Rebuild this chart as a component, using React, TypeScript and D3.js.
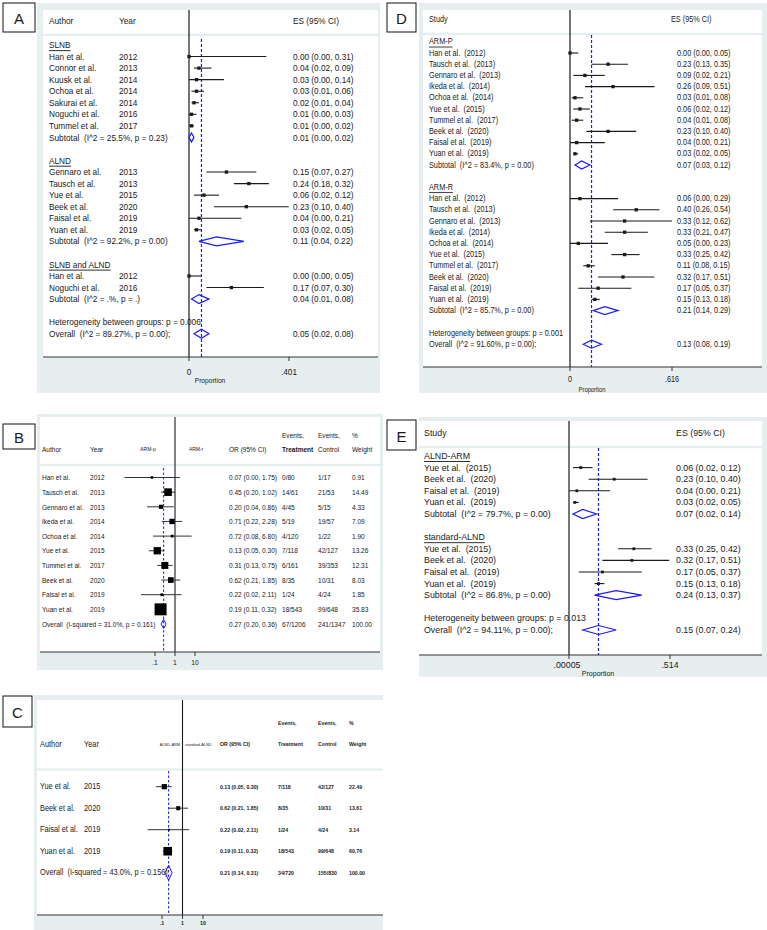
import React from 'react';
import * as d3 from 'd3';

const FONT = "'Liberation Sans', Arial, Helvetica, sans-serif";
const BG = '#e7eef0';
const BLUE = '#1a1aff';
const INK = '#1a1a1a';

type Study = [string, string, number, number, number];
type Sub = [string, number, number, number];

// ---------------- Panel A (proportion) ----------------
const A_SLNB: Study[] = [
  ['Han et al.', '2012', 0.00, 0.00, 0.31],
  ['Connor et al.', '2013', 0.04, 0.02, 0.09],
  ['Kuusk et al.', '2014', 0.03, 0.00, 0.14],
  ['Ochoa et al.', '2014', 0.03, 0.01, 0.06],
  ['Sakurai et al.', '2014', 0.02, 0.01, 0.04],
  ['Noguchi et al.', '2016', 0.01, 0.00, 0.03],
  ['Tummel et al.', '2017', 0.01, 0.00, 0.02],
];
const A_SLNB_SUB: Sub = ['Subtotal  (I^2 = 25.5%, p = 0.23)', 0.01, 0.00, 0.02];
const A_ALND: Study[] = [
  ['Gennaro et al.', '2013', 0.15, 0.07, 0.27],
  ['Tausch et al.', '2013', 0.24, 0.18, 0.32],
  ['Yue et al.', '2015', 0.06, 0.02, 0.12],
  ['Beek et al.', '2020', 0.23, 0.10, 0.40],
  ['Faisal et al.', '2019', 0.04, 0.00, 0.21],
  ['Yuan et al.', '2019', 0.03, 0.02, 0.05],
];
const A_ALND_SUB: Sub = ['Subtotal  (I^2 = 92.2%, p = 0.00)', 0.11, 0.04, 0.22];
const A_BOTH: Study[] = [
  ['Han et al.', '2012', 0.00, 0.00, 0.05],
  ['Noguchi et al.', '2016', 0.17, 0.07, 0.30],
];
const A_BOTH_SUB: Sub = ['Subtotal  (I^2 = .%, p = .)', 0.04, 0.01, 0.08];
const A_HET = 'Heterogeneity between groups: p = 0.006';
const A_OVERALL: Sub = ['Overall  (I^2 = 89.27%, p = 0.00);', 0.05, 0.02, 0.08];
const A_TICKS = [0, 0.401];
const A_TICK_LABELS = ['0', '.401'];

// ---------------- Panel D (proportion) ----------------
const D_ARMP: Study[] = [
  ['Han et al.', '2012', 0.00, 0.00, 0.05],
  ['Tausch et al.', '2013', 0.23, 0.13, 0.35],
  ['Gennaro et al.', '2013', 0.09, 0.02, 0.21],
  ['Ikeda et al.', '2014', 0.26, 0.09, 0.51],
  ['Ochoa et al.', '2014', 0.03, 0.01, 0.08],
  ['Yue et al.', '2015', 0.06, 0.02, 0.12],
  ['Tummel et al.', '2017', 0.04, 0.01, 0.08],
  ['Beek et al.', '2020', 0.23, 0.10, 0.40],
  ['Faisal et al.', '2019', 0.04, 0.00, 0.21],
  ['Yuan et al.', '2019', 0.03, 0.02, 0.05],
];
const D_ARMP_SUB: Sub = ['Subtotal  (I^2 = 83.4%, p = 0.00)', 0.07, 0.03, 0.12];
const D_ARMR: Study[] = [
  ['Han et al.', '2012', 0.06, 0.00, 0.29],
  ['Tausch et al.', '2013', 0.40, 0.26, 0.54],
  ['Gennaro et al.', '2013', 0.33, 0.12, 0.62],
  ['Ikeda et al.', '2014', 0.33, 0.21, 0.47],
  ['Ochoa et al.', '2014', 0.05, 0.00, 0.23],
  ['Yue et al.', '2015', 0.33, 0.25, 0.42],
  ['Tummel et al.', '2017', 0.11, 0.08, 0.15],
  ['Beek et al.', '2020', 0.32, 0.17, 0.51],
  ['Faisal et al.', '2019', 0.17, 0.05, 0.37],
  ['Yuan et al.', '2019', 0.15, 0.13, 0.18],
];
const D_ARMR_SUB: Sub = ['Subtotal  (I^2 = 85.7%, p = 0.00)', 0.21, 0.14, 0.29];
const D_HET = 'Heterogeneity between groups: p = 0.001';
const D_OVERALL: Sub = ['Overall  (I^2 = 91.60%, p = 0.00);', 0.13, 0.08, 0.19];
const D_TICKS = [0, 0.616];
const D_TICK_LABELS = ['0', '.616'];

// ---------------- Panel E (proportion) ----------------
const E_ARM: Study[] = [
  ['Yue et al.', '2015', 0.06, 0.02, 0.12],
  ['Beek et al.', '2020', 0.23, 0.10, 0.40],
  ['Faisal et al.', '2019', 0.04, 0.00, 0.21],
  ['Yuan et al.', '2019', 0.03, 0.02, 0.05],
];
const E_ARM_SUB: Sub = ['Subtotal  (I^2 = 79.7%, p = 0.00)', 0.07, 0.02, 0.14];
const E_STD: Study[] = [
  ['Yue et al.', '2015', 0.33, 0.25, 0.42],
  ['Beek et al.', '2020', 0.32, 0.17, 0.51],
  ['Faisal et al.', '2019', 0.17, 0.05, 0.37],
  ['Yuan et al.', '2019', 0.15, 0.13, 0.18],
];
const E_STD_SUB: Sub = ['Subtotal  (I^2 = 86.8%, p = 0.00)', 0.24, 0.13, 0.37];
const E_HET = 'Heterogeneity between groups: p = 0.013';
const E_OVERALL: Sub = ['Overall  (I^2 = 94.11%, p = 0.00);', 0.15, 0.07, 0.24];
const E_TICKS = [0, 0.514];
const E_TICK_LABELS = ['.00005', '.514'];

// ---------------- Panel B (odds ratio) ----------------
// [author, year, OR, lower, upper, events treatment, events control, weight]
type ORStudy = [string, string, number, number, number, string, string, number];
const B_STUDIES: ORStudy[] = [
  ['Han et al.', '2012', 0.07, 0.003, 1.75, '0/80', '1/17', 0.91],
  ['Tausch et al.', '2013', 0.45, 0.20, 1.02, '14/61', '21/53', 14.49],
  ['Gennaro et al.', '2013', 0.20, 0.04, 0.86, '4/45', '5/15', 4.33],
  ['Ikeda et al.', '2014', 0.71, 0.22, 2.28, '5/19', '19/57', 7.09],
  ['Ochoa et al.', '2014', 0.72, 0.08, 6.80, '4/120', '1/22', 1.90],
  ['Yue et al.', '2015', 0.13, 0.05, 0.30, '7/118', '42/127', 13.26],
  ['Tummel et al.', '2017', 0.31, 0.13, 0.75, '6/161', '39/353', 12.31],
  ['Beek et al.', '2020', 0.62, 0.21, 1.85, '8/35', '10/31', 8.03],
  ['Faisal et al.', '2019', 0.22, 0.02, 2.11, '1/24', '4/24', 1.85],
  ['Yuan et al.', '2019', 0.19, 0.11, 0.32, '18/543', '99/648', 35.83],
];
const B_OVERALL: ORStudy = ['Overall  (I-squared = 31.0%, p = 0.161)', '', 0.27, 0.20, 0.36, '67/1206', '241/1347', 100.0];
const OR_TICKS = [0.1, 1, 10];
const OR_TICK_LABELS = ['.1', '1', '10'];

// ---------------- Panel C (odds ratio) ----------------
const C_STUDIES: ORStudy[] = [
  ['Yue et al.', '2015', 0.13, 0.05, 0.30, '7/118', '42/127', 22.49],
  ['Beek et al.', '2020', 0.62, 0.21, 1.85, '8/35', '10/31', 13.61],
  ['Faisal et al.', '2019', 0.22, 0.02, 2.11, '1/24', '4/24', 3.14],
  ['Yuan et al.', '2019', 0.19, 0.11, 0.32, '18/543', '99/648', 60.76],
];
const C_OVERALL: ORStudy = ['Overall  (I-squared = 43.0%, p = 0.156)', '', 0.21, 0.14, 0.31, '34/720', '155/830', 100.0];

const fmt = (es: number, lo: number, hi: number) =>
  `${es.toFixed(2)} (${lo.toFixed(2)}, ${hi.toFixed(2)})`;

function T({ x, y, s, sx = 1, a = 'start', w = 'normal', fill = INK, u = false, children }: any) {
  return (
    <text
      transform={`translate(${x},${y}) scale(${sx},1)`}
      fontSize={s}
      textAnchor={a}
      fontWeight={w}
      fill={fill}
      dominantBaseline="central"
      fontFamily={FONT}
      style={{ whiteSpace: 'pre', textDecoration: u ? 'underline' : 'none' }}
    >
      {children}
    </text>
  );
}

function Diamond({ x, y, es, lo, hi, h, sw = 1.2 }: any) {
  const pts = [[x(lo), y], [x(es), y - h], [x(hi), y], [x(es), y + h]];
  return <polygon points={pts.map((p) => p.join(',')).join(' ')} fill="none" stroke={BLUE} strokeWidth={sw} />;
}

function LabelBox({ x, y, w, h, letter }: any) {
  return (
    <g>
      <rect x={x} y={y} width={w} height={h} fill="#fff" stroke="#111" strokeWidth={1} />
      <T x={x + w / 2} y={y + h / 2 + 1} s={15} a="middle">{letter}</T>
    </g>
  );
}

type Group = { label: string; studies: Study[]; sub: Sub };

function PropPanel({ cfg }: any) {
  const x = d3.scaleLinear().domain(cfg.domain).range(cfg.range).clamp(true);
  const groups: Group[] = cfg.groups;
  const rows: any[] = [];
  groups.forEach((g, gi) => {
    if (gi > 0) rows.push({ kind: 'blank' });
    rows.push({ kind: 'group', label: g.label });
    g.studies.forEach((s) => rows.push({ kind: 'study', s }));
    rows.push({ kind: 'sub', s: g.sub });
  });
  rows.push({ kind: 'blank' });
  rows.push({ kind: 'het', label: cfg.het });
  rows.push({ kind: 'overall', s: cfg.overall });
  const yOf = (i: number) => cfg.y0 + i * cfg.step;
  const [ox, oy, ow, oh] = cfg.outer;
  const [ix, iy, iw, ih] = cfg.inner;
  const axisY = iy + ih;
  const f = cfg.font;
  const x0 = x(0);
  const xo = x(cfg.overall[1]);
  return (
    <g>
      <rect x={ox} y={oy} width={ow} height={oh} fill={BG} />
      <rect x={ix} y={iy} width={iw} height={ih} fill="#fff" />
      <rect x={ix} y={cfg.headerSep - 1.2} width={iw} height={2.4} fill={BG} />
      <line x1={x0} x2={x0} y1={iy} y2={axisY} stroke={INK} strokeWidth={1.2} />
      <line x1={xo} x2={xo} y1={cfg.dashTop} y2={axisY} stroke={BLUE} strokeWidth={1.2} strokeDasharray="3,2" />
      <line x1={ix} x2={ix + iw} y1={axisY} y2={axisY} stroke="#333" strokeWidth={1} />
      {cfg.ticks.map((t: number, i: number) => (
        <g key={i}>
          <line x1={x(t)} x2={x(t)} y1={axisY} y2={axisY + 4} stroke="#333" strokeWidth={1} />
          <T x={cfg.tickLabelX ? cfg.tickLabelX[i] : x(t)} y={cfg.tickLabelY} s={f.s} sx={f.sx} a="middle">{cfg.tickLabels[i]}</T>
        </g>
      ))}
      <T x={cfg.propLabel[0]} y={cfg.propLabel[1]} s={f.s * 0.8} sx={f.sx} a="middle">Proportion</T>
      {cfg.hasYear ? (
        <g>
          <T x={cfg.cols.author} y={cfg.headerY} s={f.s} sx={f.sx}>Author</T>
          <T x={cfg.cols.year} y={cfg.headerY} s={f.s} sx={f.sx}>Year</T>
        </g>
      ) : (
        <T x={cfg.cols.author} y={cfg.headerY} s={f.s} sx={f.sx}>Study</T>
      )}
      <T x={cfg.cols.esHead} y={cfg.headerY} s={f.s} sx={f.sx}>ES (95% CI)</T>
      {rows.map((r, i) => {
        const y = yOf(i);
        if (r.kind === 'group') return <T key={i} x={cfg.cols.author} y={y} s={f.s} sx={f.sx} u>{r.label}</T>;
        if (r.kind === 'het') return <T key={i} x={cfg.cols.author} y={y} s={f.s} sx={f.sx}>{r.label}</T>;
        if (r.kind === 'study') {
          const [name, year, es, lo, hi] = r.s as Study;
          const m = cfg.marker;
          return (
            <g key={i}>
              <line x1={x(lo)} x2={x(hi)} y1={y} y2={y} stroke={INK} strokeWidth={1.1} />
              <rect x={x(es) - m / 2} y={y - m / 2} width={m} height={m} fill={INK} />
              {cfg.hasYear ? (
                <g>
                  <T x={cfg.cols.author} y={y} s={f.s} sx={f.sx}>{name}</T>
                  <T x={cfg.cols.year} y={y} s={f.s} sx={f.sx}>{year}</T>
                </g>
              ) : (
                <T x={cfg.cols.author} y={y} s={f.s} sx={f.sx}>{`${name}  (${year})`}</T>
              )}
              <T x={cfg.cols.es} y={y} s={f.s} sx={f.sx}>{fmt(es, lo, hi)}</T>
            </g>
          );
        }
        if (r.kind === 'sub' || r.kind === 'overall') {
          const [label, es, lo, hi] = r.s as Sub;
          return (
            <g key={i}>
              <Diamond x={x} y={y} es={es} lo={lo} hi={hi} h={cfg.diamondH} />
              <T x={cfg.cols.author} y={y} s={f.s} sx={f.sx}>{label}</T>
              <T x={cfg.cols.es} y={y} s={f.s} sx={f.sx}>{fmt(es, lo, hi)}</T>
            </g>
          );
        }
        return null;
      })}
    </g>
  );
}

function ORPanel({ cfg }: any) {
  const x = d3.scaleLog().domain([0.1, 10]).range(cfg.range);
  const [ox, oy, ow, oh] = cfg.outer;
  const [ix, iy, iw, ih] = cfg.inner;
  const axisY = iy + ih;
  const f = cfg.font;
  const n = cfg.num;
  const c = cfg.cols;
  const studies: ORStudy[] = cfg.studies;
  const ov: ORStudy = cfg.overall;
  const yOf = (i: number) => cfg.y0 + i * cfg.step;
  const x1 = x(1);
  const xo = x(ov[2]);
  const yOv = yOf(studies.length);
  return (
    <g>
      <rect x={ox} y={oy} width={ow} height={oh} fill={BG} />
      <rect x={ix} y={iy} width={iw} height={ih} fill="#fff" />
      <rect x={ix} y={cfg.headerSep - 1.2} width={iw} height={2.4} fill={BG} />
      <line x1={x1} x2={x1} y1={iy} y2={axisY} stroke={INK} strokeWidth={1.1} />
      <line x1={xo} x2={xo} y1={cfg.dashTop} y2={axisY} stroke={BLUE} strokeWidth={1} strokeDasharray="2.5,2" />
      <line x1={ix} x2={ix + iw} y1={axisY} y2={axisY} stroke="#333" strokeWidth={1} />
      {OR_TICKS.map((t, i) => (
        <g key={i}>
          <line x1={x(t)} x2={x(t)} y1={axisY} y2={axisY + 4} stroke="#333" strokeWidth={1} />
          <T x={x(t)} y={cfg.tickLabelY} s={cfg.tickFont.s} sx={cfg.tickFont.sx} w={cfg.tickFont.w} a="middle">{OR_TICK_LABELS[i]}</T>
        </g>
      ))}
      {/* header */}
      <T x={c.author} y={cfg.headY2} s={f.s} sx={f.sx}>Author</T>
      <T x={c.year} y={cfg.headY2} s={f.s} sx={f.sx}>Year</T>
      <T x={cfg.leftLabel[0]} y={cfg.headY2} s={cfg.tiny} sx={0.9} a={cfg.leftLabel[2]}>{cfg.leftLabel[3]}</T>
      <T x={cfg.rightLabel[0]} y={cfg.headY2} s={cfg.tiny} sx={0.9} a={cfg.rightLabel[2]}>{cfg.rightLabel[3]}</T>
      <T x={c.or} y={cfg.headY2} s={n.s} sx={n.sx} w={n.w}>OR (95% CI)</T>
      <T x={c.treat} y={cfg.headY1} s={n.s} sx={n.sx} w={n.w}>Events,</T>
      <T x={c.treat} y={cfg.headY2} s={n.s} sx={n.sx} w="bold">Treatment</T>
      <T x={c.ctrl} y={cfg.headY1} s={n.s} sx={n.sx} w={n.w}>Events,</T>
      <T x={c.ctrl} y={cfg.headY2} s={n.s} sx={n.sx} w={n.w}>Control</T>
      <T x={c.wt} y={cfg.headY1} s={n.s} sx={n.sx} w={n.w}>%</T>
      <T x={c.wt} y={cfg.headY2} s={n.s} sx={n.sx} w={n.w}>Weight</T>
      {studies.map((s, i) => {
        const [name, year, or, lo, hi, tr, ct, wt] = s;
        const y = yOf(i);
        const side = Math.max(cfg.minSide, cfg.k * Math.sqrt(wt));
        return (
          <g key={i}>
            <line x1={x(lo)} x2={x(hi)} y1={y} y2={y} stroke="#333" strokeWidth={1} />
            <rect x={x(or) - side / 2} y={y - side / 2} width={side} height={side} fill="#000" />
            <T x={c.author} y={y} s={f.s} sx={f.sx}>{name}</T>
            <T x={c.year} y={y} s={f.s} sx={f.sx}>{year}</T>
            <T x={c.or} y={y} s={n.s} sx={n.sx} w={n.w}>{fmt(or, lo, hi)}</T>
            <T x={c.treat} y={y} s={n.s} sx={n.sx} w={n.w}>{tr}</T>
            <T x={c.ctrl} y={y} s={n.s} sx={n.sx} w={n.w}>{ct}</T>
            <T x={c.wt} y={y} s={n.s} sx={n.sx} w={n.w}>{wt.toFixed(2)}</T>
          </g>
        );
      })}
      <T x={c.author} y={yOv} s={f.s} sx={f.sx}>{ov[0]}</T>
      <Diamond x={x} y={yOv} es={ov[2]} lo={ov[3]} hi={ov[4]} h={cfg.diamondH} sw={1} />
      <T x={c.or} y={yOv} s={n.s} sx={n.sx} w={n.w}>{fmt(ov[2], ov[3], ov[4])}</T>
      <T x={c.treat} y={yOv} s={n.s} sx={n.sx} w={n.w}>{ov[5]}</T>
      <T x={c.ctrl} y={yOv} s={n.s} sx={n.sx} w={n.w}>{ov[6]}</T>
      <T x={c.wt} y={yOv} s={n.s} sx={n.sx} w={n.w}>{ov[7].toFixed(2)}</T>
    </g>
  );
}

const cfgA = {
  outer: [37, 3, 343, 390], inner: [43, 10, 335, 347], headerSep: 34.8,
  domain: [0, 0.401], range: [189, 289], ticks: A_TICKS, tickLabels: A_TICK_LABELS,
  tickLabelY: 372, propLabel: [210, 380.5], y0: 45, step: 11.55, dashTop: 39,
  cols: { author: 49, year: 119, es: 293, esHead: 293 }, headerY: 21, hasYear: true,
  font: { s: 9, sx: 0.92 }, marker: 3.3, diamondH: 4.5,
  groups: [
    { label: 'SLNB', studies: A_SLNB, sub: A_SLNB_SUB },
    { label: 'ALND', studies: A_ALND, sub: A_ALND_SUB },
    { label: 'SLNB and ALND', studies: A_BOTH, sub: A_BOTH_SUB },
  ],
  het: A_HET, overall: A_OVERALL,
};

const cfgD = {
  outer: [419, 3, 348, 390], inner: [423, 10, 339, 357], headerSep: 34,
  domain: [0, 0.616], range: [570, 672], ticks: D_TICKS, tickLabels: D_TICK_LABELS,
  tickLabelY: 379.5, propLabel: [592, 389], y0: 41.8, step: 11.2, dashTop: 35,
  cols: { author: 429, es: 677, esHead: 671 }, headerY: 19, hasYear: false,
  font: { s: 8.4, sx: 0.87 }, marker: 3.3, diamondH: 4,
  groups: [
    { label: 'ARM-P', studies: D_ARMP, sub: D_ARMP_SUB },
    { label: 'ARM-R', studies: D_ARMR, sub: D_ARMR_SUB },
  ],
  het: D_HET, overall: D_OVERALL,
};

const cfgE = {
  outer: [419, 417, 348, 260], inner: [419, 421, 343, 234], headerSep: 447,
  domain: [0, 0.514], range: [569, 670], ticks: E_TICKS, tickLabels: E_TICK_LABELS,
  tickLabelX: [567, 670],
  tickLabelY: 665, propLabel: [598, 673.5], y0: 456, step: 11.6, dashTop: 448,
  cols: { author: 424, es: 676, esHead: 676 }, headerY: 433, hasYear: false,
  font: { s: 9, sx: 0.98 }, marker: 2.8, diamondH: 4.5,
  groups: [
    { label: 'ALND-ARM', studies: E_ARM, sub: E_ARM_SUB },
    { label: 'standard-ALND', studies: E_STD, sub: E_STD_SUB },
  ],
  het: E_HET, overall: E_OVERALL,
};

const cfgB = {
  outer: [37, 414, 346, 256], inner: [40, 417, 340, 235], headerSep: 465,
  range: [155, 195], tickLabelY: 663, tickFont: { s: 7.5, sx: 0.9, w: 'normal' },
  y0: 477.5, step: 14.65, dashTop: 468,
  cols: { author: 42, year: 90, or: 229, treat: 282, ctrl: 318, wt: 352 },
  headY1: 435, headY2: 449, font: { s: 8, sx: 0.82 }, num: { s: 8, sx: 0.82, w: 'normal' },
  tiny: 5.5, leftLabel: [148, 0, 'middle', 'ARM-p'], rightLabel: [196, 0, 'middle', 'ARM-r'],
  k: 2, minSide: 2.5, diamondH: 4.5,
  studies: B_STUDIES, overall: B_OVERALL,
};

const cfgC = {
  outer: [34, 695, 349, 235], inner: [37, 700, 346, 215], headerSep: 769.5,
  range: [162, 203], tickLabelY: 923, tickFont: { s: 5.5, sx: 0.95, w: 'bold' },
  y0: 786.7, step: 21.5, dashTop: 771,
  cols: { author: 40, year: 84, or: 220, treat: 278, ctrl: 318, wt: 349 },
  headY1: 723, headY2: 744, font: { s: 9, sx: 0.82 }, num: { s: 5.5, sx: 0.95, w: 'bold' },
  tiny: 4.3, leftLabel: [180, 0, 'end', 'ALND-ARM'], rightLabel: [185, 0, 'start', 'standard-ALND'],
  k: 1.1, minSide: 2, diamondH: 7.5,
  studies: C_STUDIES, overall: C_OVERALL,
};

export default function App() {
  return (
    <div style={{ position: 'absolute', left: 0, top: 0 }}>
      <svg width={767} height={930} viewBox="0 0 767 930" style={{ display: 'block', background: '#fff' }}>
        <PropPanel cfg={cfgA} />
        <PropPanel cfg={cfgD} />
        <PropPanel cfg={cfgE} />
        <ORPanel cfg={cfgB} />
        <ORPanel cfg={cfgC} />
        <LabelBox x={3} y={3} w={32} h={29} letter="A" />
        <LabelBox x={3} y={424} w={32} h={25} letter="B" />
        <LabelBox x={3} y={696} w={29} h={31} letter="C" />
        <LabelBox x={387} y={3} w={29} h={29} letter="D" />
        <LabelBox x={387} y={420} w={29} h={30} letter="E" />
      </svg>
    </div>
  );
}
